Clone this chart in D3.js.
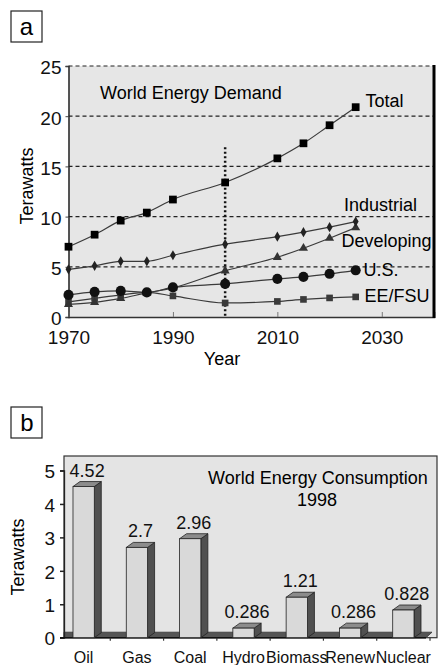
<!DOCTYPE html>
<html><head><meta charset="utf-8">
<script src="https://cdn.jsdelivr.net/npm/d3@7"></script>
<style>body{margin:0;background:#fff}svg{display:block;font-family:"Liberation Sans",Arial,sans-serif}</style>
</head><body>
<svg id="c" width="439" height="665"></svg>
<script>
// ---- Panel a data ----
const years = [1970,1975,1980,1985,1990,2000,2010,2015,2020,2025];
const total = [7.0,8.2,9.6,10.4,11.7,13.4,15.8,17.3,19.1,20.9];
const industrial = [4.75,5.1,5.55,5.55,6.15,7.25,8.0,8.45,8.95,9.5];
const developing = [1.25,1.45,1.85,2.4,2.9,4.6,5.95,6.85,7.85,8.9];
const us = [2.2,2.5,2.6,2.45,2.95,3.3,3.8,4.0,4.3,4.65];
const eefsu = [1.5,1.85,2.2,2.45,2.1,1.4,1.55,1.75,1.9,2.0];
const seriesNames = ["Total","Industrial","Developing","U.S.","EE/FSU"];
const yTicksA = [0,5,10,15,20,25];
const xTicksA = [1970,1990,2010,2030];
const markerYear = 2000;

// ---- Panel b data ----
const sources = ["Oil","Gas","Coal","Hydro","Biomass","Renew","Nuclear"];
const consumption = [4.52,2.7,2.96,0.286,1.21,0.286,0.828];
const yTicksB = [0,1,2,3,4,5];

const svg = d3.select("#c");
const FS = 18;
const TFS = 19;
const FF = '"Liberation Sans",Arial,sans-serif';

// ===== Panel a =====
const xA = d3.scaleLinear().domain([1970,2040]).range([68.5,434]);
const yA = d3.scaleLinear().domain([0,25]).range([317,66]);

// panel letter
svg.append("rect").attr("x",11).attr("y",11).attr("width",31).attr("height",31)
  .attr("fill","#fff").attr("stroke","#222").attr("stroke-width",1.2);
svg.append("text").attr("x",26.5).attr("y",35).attr("text-anchor","middle")
  .attr("font-size",24).text("a");

const gA = svg.append("g");
gA.append("rect").attr("x",xA(1970)).attr("y",yA(25)).attr("width",xA(2040)-xA(1970))
  .attr("height",yA(0)-yA(25)).attr("fill","#e6e6e6");

// gridlines dashed
gA.selectAll(".grid").data(yTicksA.filter(d=>d>0)).join("line")
  .attr("x1",xA(1970)).attr("x2",xA(2040)).attr("y1",d=>yA(d)).attr("y2",d=>yA(d))
  .attr("stroke","#222").attr("stroke-width",1.2).attr("stroke-dasharray","4,3");

// axes
const axLA = d3.axisLeft(yA).tickValues(yTicksA).tickSize(3).tickPadding(4);
const gyA = gA.append("g").attr("transform",`translate(${xA(1970)},0)`).call(axLA)
  .attr("font-family",FF).attr("font-size",TFS);
gyA.select(".domain").attr("stroke","#222").attr("stroke-width",1.5);
gyA.selectAll("text").attr("fill","#111").attr("dy","0.42em");
gyA.selectAll("line").attr("stroke","#444");

const axBA = d3.axisBottom(xA).tickValues(xTicksA).tickSize(-5).tickPadding(10).tickFormat(d3.format("d"));
const gxA = gA.append("g").attr("transform",`translate(0,${yA(0)})`).call(axBA)
  .attr("font-family",FF).attr("font-size",TFS);
gxA.select(".domain").attr("stroke","#333").attr("stroke-width",1.5);
gxA.selectAll("line").attr("stroke","#777");
gxA.selectAll("text").attr("fill","#111").attr("dy","0.92em");

// right border thick
gA.append("line").attr("x1",xA(2040)).attr("x2",xA(2040)).attr("y1",yA(25)-1).attr("y2",yA(0)+1)
  .attr("stroke","#000").attr("stroke-width",3);

// vertical dotted line at 2000
gA.append("line").attr("x1",xA(markerYear)).attr("x2",xA(markerYear)).attr("y1",yA(16.9)).attr("y2",yA(0))
  .attr("stroke","#111").attr("stroke-width",2.5).attr("stroke-dasharray","2,2.5");

// titles
svg.append("text").attr("x",222).attr("y",365).attr("text-anchor","middle").attr("font-size",FS).text("Year");
svg.append("text").attr("transform","translate(33,186) rotate(-90)").attr("text-anchor","middle")
  .attr("font-size",FS).text("Terawatts");
svg.append("text").attr("x",100).attr("y",99).attr("font-size",FS).text("World Energy Demand");

// series
const line = d3.line().x((d,i)=>xA(years[i])).y(d=>yA(d)).curve(d3.curveMonotoneX);
const allSeries = [eefsu, us, developing, industrial, total];
allSeries.forEach(s=>{
  gA.append("path").attr("d",line(s)).attr("fill","none").attr("stroke","#3a3a3a").attr("stroke-width",1.2);
});
// markers
const sym = (type,size)=>d3.symbol().type(type).size(size)();
function markers(data,type,size,fill){
  gA.append("g").selectAll("path").data(data).join("path")
    .attr("transform",(d,i)=>`translate(${xA(years[i])},${yA(d)})`)
    .attr("d",sym(type,size)).attr("fill",fill);
}
markers(eefsu,d3.symbolSquare,44,"#3a3a3a");
markers(developing,d3.symbolTriangle,36,"#333");
markers(industrial,d3.symbolDiamond,30,"#222");
markers(us,d3.symbolCircle,80,"#111");
markers(total,d3.symbolSquare,60,"#000");

// series labels
const labelPos = [[365.5,107],[344,211],[341.5,247],[363.5,275.5],[364.5,302]];
seriesNames.forEach((n,i)=>{
  svg.append("text").attr("x",labelPos[i][0]).attr("y",labelPos[i][1]).attr("font-size",FS).text(n);
});

// ===== Panel b =====
svg.append("rect").attr("x",11).attr("y",407).attr("width",31).attr("height",31)
  .attr("fill","#fff").attr("stroke","#222").attr("stroke-width",1.2);
svg.append("text").attr("x",27).attr("y",431).attr("text-anchor","middle")
  .attr("font-size",24).text("b");

const xB = d3.scaleBand().domain(sources).range([57,430]).paddingInner(0).paddingOuter(0);
const yB = d3.scaleLinear().domain([0,5]).range([637.7,470.5]);
const DX = 7, DY = 5, BW = 21.3;

const gB = svg.append("g");
gB.append("rect").attr("x",64).attr("y",456).attr("width",373).attr("height",yB(0)-456)
  .attr("fill","#e4e4e4").attr("stroke","#333").attr("stroke-width",1.2);

// floor
gB.append("path").attr("d",`M64,${yB(0)-DY-0.5} L432,${yB(0)-DY-0.5} L426,${yB(0)} L64,${yB(0)} Z`)
  .attr("fill","#555").attr("stroke","#333").attr("stroke-width",0.8);

// y axis
const axLB = d3.axisLeft(yB).tickValues(yTicksB).tickSize(4).tickPadding(5).tickFormat(d3.format("d"));
const gyB = gB.append("g").attr("transform","translate(64,0)").call(axLB)
  .attr("font-family",FF).attr("font-size",TFS);
gyB.select(".domain").attr("stroke","#222").attr("stroke-width",1.3);
gyB.selectAll("line").attr("stroke","#222").attr("stroke-width",1.5);
gyB.selectAll("text").attr("fill","#111").attr("dy","0.38em");

// x axis line and ticks at band boundaries
gB.append("line").attr("x1",60).attr("x2",426).attr("y1",yB(0)).attr("y2",yB(0)).attr("stroke","#111").attr("stroke-width",1.5);
gB.selectAll(".xt").data(sources).join("line")
  .attr("x1",d=>xB(d)+xB.bandwidth()).attr("x2",d=>xB(d)+xB.bandwidth())
  .attr("y1",yB(0)).attr("y2",yB(0)+3).attr("stroke","#333").attr("stroke-width",1.2);
gB.selectAll(".xl").data(sources).join("text")
  .attr("x",d=>xB(d)+xB.bandwidth()/2).attr("y",663).attr("text-anchor","middle")
  .attr("font-size",16).attr("fill","#111").text(d=>d);

// bars 3D
const bars = gB.selectAll(".bar").data(sources).join("g");
bars.each(function(d,i){
  const g = d3.select(this);
  const x0 = xB(d)+xB.bandwidth()/2-BW/2, x1 = x0+BW;
  const yt = yB(consumption[i]), yb = yB(0);
  g.append("path").attr("d",`M${x1},${yb} L${x1},${yt} L${x1+DX},${yt-DY} L${x1+DX},${yb-DY} Z`)
    .attr("fill","#505050").attr("stroke","#222").attr("stroke-width",0.8);
  g.append("path").attr("d",`M${x0},${yt} L${x0+DX},${yt-DY} L${x1+DX},${yt-DY} L${x1},${yt} Z`)
    .attr("fill","#8c8c8c").attr("stroke","#222").attr("stroke-width",0.8);
  g.append("rect").attr("x",x0).attr("y",yt).attr("width",BW).attr("height",yb-yt)
    .attr("fill","#d9d9d9").attr("stroke","#222").attr("stroke-width",0.8);
  g.append("text").attr("x",(x0+x1+DX)/2).attr("y",yt-10).attr("text-anchor","middle")
    .attr("font-size",FS).attr("fill","#111").text(String(consumption[i]));
});

// titles
svg.append("text").attr("x",318).attr("y",484).attr("text-anchor","middle").attr("font-size",FS).text("World Energy Consumption");
svg.append("text").attr("x",317).attr("y",506).attr("text-anchor","middle").attr("font-size",FS).text("1998");
svg.append("text").attr("transform","translate(24,557) rotate(-90)").attr("text-anchor","middle")
  .attr("font-size",FS).text("Terawatts");
</script>
</body></html>
